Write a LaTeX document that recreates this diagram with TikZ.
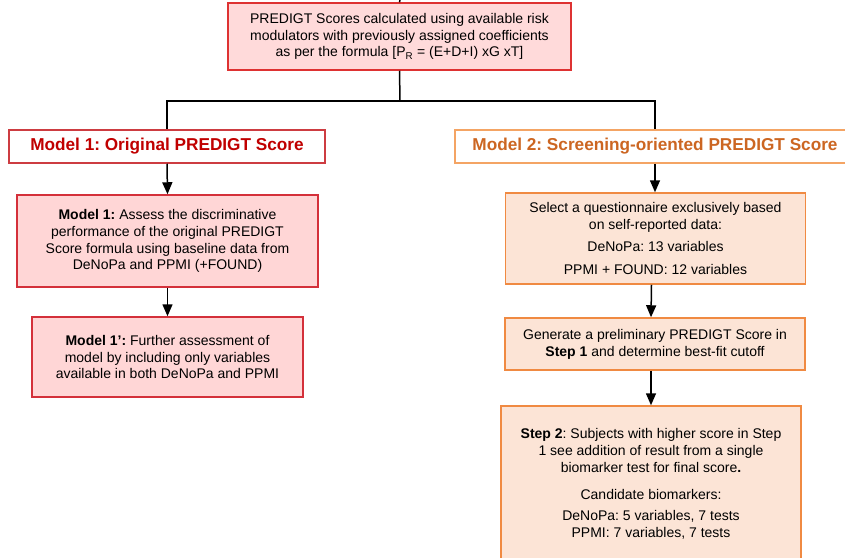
\documentclass[tikz,border=0pt]{standalone}
\usepackage{fontspec}
\setmainfont{Liberation Sans}
\usetikzlibrary{arrows.meta}
\frenchspacing
\definecolor{topfill}{RGB}{255,218,218}
\definecolor{topdraw}{RGB}{222,50,50}
\definecolor{redtxt}{RGB}{192,0,0}
\definecolor{redtitle}{RGB}{205,60,65}
\definecolor{redfill}{RGB}{255,214,214}
\definecolor{reddraw}{RGB}{212,48,58}
\definecolor{orgtitle}{RGB}{244,164,100}
\definecolor{orgtxt}{RGB}{204,102,34}
\definecolor{orgfill}{RGB}{252,228,214}
\definecolor{orgdraw}{RGB}{240,138,66}
\tikzset{
  base/.style={inner sep=0pt, align=center, font=\frenchspacing\fontsize{14}{16.8}\selectfont, line width=1.5pt},
  topbox/.style={base, draw=topdraw, fill=topfill},
  redbox/.style={base, draw=reddraw, fill=redfill},
  orgbox/.style={base, draw=orgdraw, fill=orgfill},
  redtitlebox/.style={base, draw=redtitle, fill=white, text=redtxt, font=\frenchspacing\fontsize{17.2}{20}\selectfont\bfseries},
  orgtitlebox/.style={base, draw=orgtitle, fill=white, text=orgtxt, font=\frenchspacing\fontsize{17.2}{20}\selectfont\bfseries},
  conn/.style={line width=1.5pt, black},
  arr/.style={conn, -{Triangle[length=12pt,width=10pt]}}
}
\begin{document}
\begin{tikzpicture}[x=1pt,y=-1pt]
\useasboundingbox (0,0) rectangle (845,557);
\clip (0,0) rectangle (845,557);
\node[topbox, minimum width=343pt, minimum height=67pt] (top) at (399.5,36.5)
  {PREDIGT Scores calculated using available risk\\
   modulators with previously assigned coefficients\\
   as per the formula [P\textsubscript{R} = (E+D+I) xG xT]};
\coordinate (topin) at (400,0);
\node[redtitlebox, minimum width=316pt, minimum height=33pt] (m1t) at (167,146.5)
  {Model 1: Original PREDIGT Score};
\node[orgtitlebox, minimum width=400pt, minimum height=33pt] (m2t) at (655,146.5)
  {Model 2: Screening-oriented PREDIGT Score};
\node[redbox, minimum width=301pt, minimum height=92pt] (m1) at (167.5,241)
  {\textbf{Model 1:} Assess the discriminative\\
   performance of the original PREDIGT\\
   Score formula using baseline data from\\
   DeNoPa and PPMI (+FOUND)};
\node[redbox, minimum width=271pt, minimum height=80pt] (m1p) at (167.5,357)
  {\textbf{Model 1’:} Further assessment of\\
   model by including only variables\\
   available in both DeNoPa and PPMI};
\node[orgbox, minimum width=300pt, minimum height=91pt] (sel) at (655.5,238.5)
  {Select a questionnaire exclusively based\\
   on self-reported data:\\[5.5pt]
   DeNoPa: 13 variables\\[5.5pt]
   PPMI + FOUND: 12 variables};
\node[orgbox, minimum width=300pt, minimum height=52pt] (gen) at (655,344)
  {Generate a preliminary PREDIGT Score in\\
   \textbf{Step 1} and determine best-fit cutoff};
\node[orgbox, minimum width=300pt, minimum height=156pt] (st2) at (651,484)
  {\textbf{Step 2}: Subjects with higher score in Step\\
   1 see addition of result from a single\\
   biomarker test for final score\textbf{.}\\[10pt]
   Candidate biomarkers:\\[5pt]
   DeNoPa: 5 variables, 7 tests\\
   PPMI: 7 variables, 7 tests};
% connectors
\draw[conn] (top.north) -- (topin);
\coordinate (split) at (400,101);
\draw[conn] (top.south) -- (split);
\draw[conn] (split) -| (m1t.north);
\draw[conn] (split) -| (m2t.north);
\draw[arr] (m1t.south) -- (m1.north);
\draw[arr] (m1.south) -- (m1p.north);
\draw[arr] (m2t.south) -- (m2t.south |- sel.north);
\draw[arr] ([xshift=-4pt]sel.south) -- ([xshift=-4pt]gen.north);
\draw[arr] ([xshift=-4pt]gen.south) -- ([xshift=-4pt]gen.south |- st2.north);
\end{tikzpicture}
\end{document}
